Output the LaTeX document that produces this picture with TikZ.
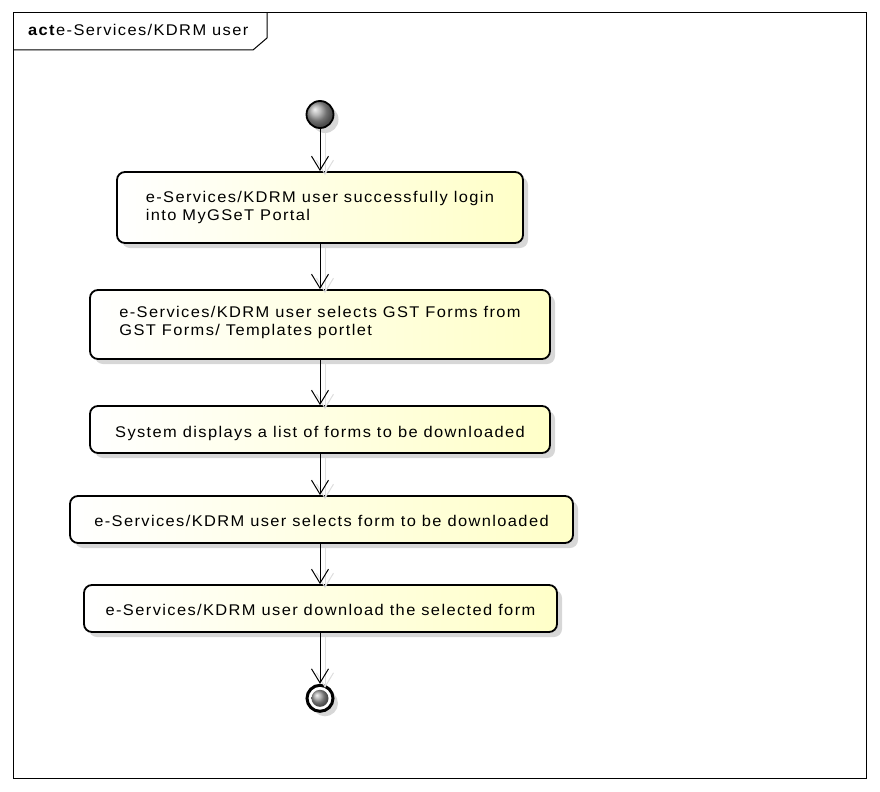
\documentclass[tikz,border=0pt]{standalone}
\usepackage{fontspec}
\setmainfont{Liberation Sans}[LetterSpace=9, FakeStretch=1.06]
\usetikzlibrary{arrows.meta,calc,shadows}
\definecolor{actyel}{RGB}{255,255,200}
\definecolor{shgray}{RGB}{215,215,215}
\definecolor{lnshadow}{RGB}{222,222,222}
\newcommand\acttxt[2]{\raisebox{#1}[\height][\depth]{\begin{tabular}{@{}l@{}}#2\end{tabular}}}
\tikzset{
  actbox/.style={draw=black, line width=1.8bp, rounded corners=8bp,
    left color=white, right color=actyel, inner sep=0pt,
    font=\fontsize{15.5bp}{17.5bp}\selectfont,
    drop shadow={shadow xshift=5bp, shadow yshift=-5bp, fill=shgray, opacity=1}},
  flow/.style={-{Straight Barb[length=14bp,width=17bp]}, line width=1bp, draw=black},
  flowshadow/.style={-{Straight Barb[length=14bp,width=17bp]}, line width=1bp, draw=lnshadow},
  framebox/.style={draw=black, line width=1bp},
  ballnode/.style={circle, inner sep=0pt, ball color=gray!75},
}
\begin{document}
\begin{tikzpicture}[x=1bp,y=-1bp]
\useasboundingbox (0,0) rectangle (880,792);
% frame
\draw[framebox] (13,13) rectangle (866,778);
\draw[framebox] (13,50) -- (253,50) -- (267,38) -- (267,13);
\node[anchor=base west, inner sep=0pt, font=\fontsize{15.5bp}{17bp}\selectfont] (title) at (28,36) {\textbf{act}e-Services/KDRM user};

% start
\node[ballnode, draw=black, line width=1.8bp, minimum size=27bp,
  drop shadow={shadow xshift=5bp, shadow yshift=-5bp, fill=shgray, opacity=1}] (start) at (320,114.5) {};

% actions
\node[actbox, minimum width=406bp, minimum height=71bp] (b1) at (320,207.5)
  {\acttxt{-0.4bp}{e-Services/KDRM user successfully login\\into MyGSeT Portal}};
\node[actbox, minimum width=460bp, minimum height=69bp] (b2) at (320,324.5)
  {\acttxt{1.6bp}{e-Services/KDRM user selects GST Forms from\\GST Forms/ Templates portlet}};
\node[actbox, minimum width=460bp, minimum height=47bp] (b3) at (320,429.5)
  {\acttxt{-4bp}{System displays a list of forms to be downloaded}};
\node[actbox, minimum width=503bp, minimum height=47bp] (b4) at (321.5,519.5)
  {\acttxt{-3.8bp}{e-Services/KDRM user selects form to be downloaded}};
\node[actbox, minimum width=473bp, minimum height=47bp] (b5) at (320.5,608.5)
  {\acttxt{-3.8bp}{e-Services/KDRM user download the selected form}};

% end
\node[circle, draw=black, line width=3bp, fill=white, minimum size=26bp, inner sep=0pt,
  drop shadow={shadow xshift=5bp, shadow yshift=-5bp, fill=shgray, opacity=1}] (end) at (320,698.3) {};
\node[ballnode, minimum size=17bp] (endin) at (end) {};

% connector shadows
\draw[flowshadow] ([shift={(5,4)}]start.south) -- ([shift={(5,4)}]start.south |- b1.north);
\draw[flowshadow] ([shift={(5,4)}]start.south |- b1.south) -- ([shift={(5,4)}]start.south |- b2.north);
\draw[flowshadow] ([shift={(5,4)}]start.south |- b2.south) -- ([shift={(5,4)}]start.south |- b3.north);
\draw[flowshadow] ([shift={(5,4)}]start.south |- b3.south) -- ([shift={(5,4)}]start.south |- b4.north);
\draw[flowshadow] ([shift={(5,4)}]start.south |- b4.south) -- ([shift={(5,4)}]start.south |- b5.north);
\draw[flowshadow] ([shift={(5,4)}]start.south |- b5.south) -- ([shift={(5,4)}]end.north);

% connectors
\draw[flow] (start.south) -- (start.south |- b1.north);
\draw[flow] (start.south |- b1.south) -- (start.south |- b2.north);
\draw[flow] (start.south |- b2.south) -- (start.south |- b3.north);
\draw[flow] (start.south |- b3.south) -- (start.south |- b4.north);
\draw[flow] (start.south |- b4.south) -- (start.south |- b5.north);
\draw[flow] (start.south |- b5.south) -- (end.north);
\end{tikzpicture}
\end{document}
